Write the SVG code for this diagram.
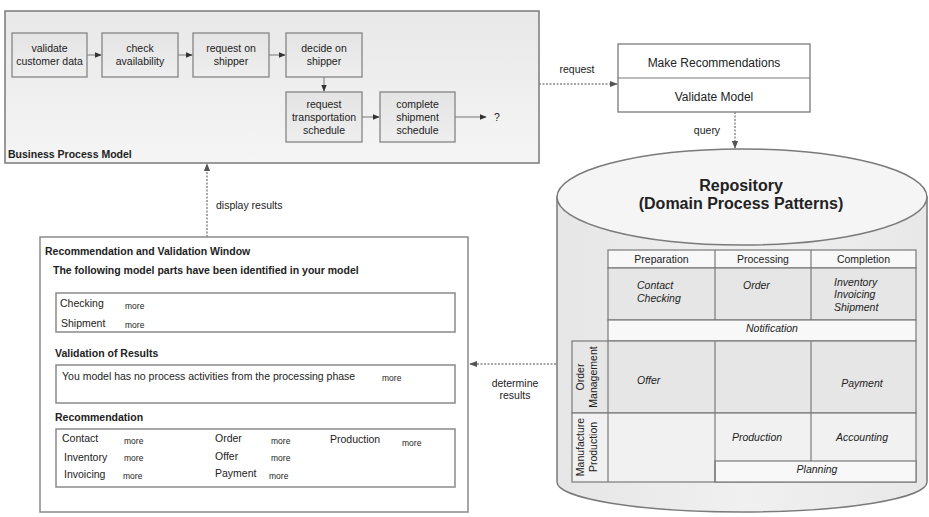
<svg xmlns="http://www.w3.org/2000/svg" width="929" height="517" viewBox="0 0 929 517">
<defs>
<linearGradient id="bpmGrad" x1="0" y1="0" x2="0" y2="1">
<stop offset="0" stop-color="#e8e8e8"/>
<stop offset="1" stop-color="#f5f5f5"/>
</linearGradient>
<linearGradient id="taskGrad" x1="0" y1="0" x2="0" y2="1">
<stop offset="0" stop-color="#e4e4e4"/>
<stop offset="1" stop-color="#eeeeee"/>
</linearGradient>
<linearGradient id="cylGrad" x1="0" y1="0" x2="1" y2="0">
<stop offset="0" stop-color="#e6e6e6"/>
<stop offset="0.5" stop-color="#f0f0f0"/>
<stop offset="1" stop-color="#e8e8e8"/>
</linearGradient>
<marker id="arr" viewBox="0 0 10 10" refX="9" refY="5" markerWidth="7" markerHeight="7" orient="auto" markerUnits="userSpaceOnUse">
<path d="M0,1 L10,5 L0,9 Z" fill="#333"/>
</marker>
<marker id="arrD" viewBox="0 0 10 10" refX="9" refY="5" markerWidth="8" markerHeight="8" orient="auto" markerUnits="userSpaceOnUse">
<path d="M0,1 L10,5 L0,9 Z" fill="#555"/>
</marker>
</defs>
<style>
text{font-family:"Liberation Sans",Arial,sans-serif;fill:#222;}
.t{font-size:10.5px;text-anchor:middle;}
.b{font-size:10.5px;font-weight:bold;}
.s{font-size:10.5px;}
.m{font-size:8.5px;}
.i{font-size:10.5px;font-style:italic;}
.ic{font-size:10.5px;font-style:italic;text-anchor:middle;}
.task{fill:url(#taskGrad);stroke:#858585;stroke-width:1.3;}
.flow{stroke:#8a8a8a;stroke-width:1.2;fill:none;marker-end:url(#arr);}
.dot{stroke:#8a8a8a;stroke-width:1.5;stroke-dasharray:2,1.5;fill:none;marker-end:url(#arrD);}
.pane{fill:#fff;stroke:#8a8a8a;stroke-width:1.5;}
.cell{stroke:#7a7a7a;stroke-width:1.2;}
</style>

<g id="business-process-model">
<rect x="5" y="11" width="534" height="152" fill="url(#bpmGrad)" stroke="#7a7a7a" stroke-width="1.5"/>
<text class="b" x="8" y="158">Business Process Model</text>
</g>
<g id="task-validate">
<rect class="task" x="12" y="33" width="75" height="44"/>
<text class="t" x="49.5" y="52">validate</text>
<text class="t" x="49.5" y="65">customer data</text>
</g>
<g id="task-check">
<rect class="task" x="102" y="33" width="76" height="44"/>
<text class="t" x="140" y="52">check</text>
<text class="t" x="140" y="65">availability</text>
</g>
<g id="task-request-shipper">
<rect class="task" x="193" y="33" width="76" height="44"/>
<text class="t" x="231" y="52">request on</text>
<text class="t" x="231" y="65">shipper</text>
</g>
<g id="task-decide-shipper">
<rect class="task" x="286" y="33" width="76" height="44"/>
<text class="t" x="324" y="52">decide on</text>
<text class="t" x="324" y="65">shipper</text>
</g>
<g id="task-request-transport">
<rect class="task" x="286" y="92" width="76" height="50"/>
<text class="t" x="324" y="108">request</text>
<text class="t" x="324" y="121">transportation</text>
<text class="t" x="324" y="134">schedule</text>
</g>
<g id="task-complete-shipment">
<rect class="task" x="380" y="92" width="75" height="50"/>
<text class="t" x="417.5" y="108">complete</text>
<text class="t" x="417.5" y="121">shipment</text>
<text class="t" x="417.5" y="134">schedule</text>
</g>
<g id="unknown-end">
<text class="s" x="494" y="121">?</text>
</g>

<g id="recommender">
<rect x="618" y="44" width="192" height="68" fill="#fff" stroke="#7a7a7a" stroke-width="1.3"/>
<line x1="618" y1="78" x2="810" y2="78" stroke="#7a7a7a" stroke-width="1.2"/>
<text class="t" x="714" y="67" style="font-size:12px">Make Recommendations</text>
<text class="t" x="714" y="101" style="font-size:12px">Validate Model</text>
</g>

<g id="repository">
<path d="M557,197 L557,482 A185,30 0 0 0 927,482 L927,197 Z" fill="url(#cylGrad)" stroke="#7a7a7a" stroke-width="1.5"/>
<ellipse cx="742" cy="197" rx="185" ry="48" fill="#f5f5f5" stroke="#7a7a7a" stroke-width="1.5"/>
<text x="741" y="191" text-anchor="middle" style="font-size:16px;font-weight:bold">Repository</text>
<text x="741" y="209" text-anchor="middle" style="font-size:16px;font-weight:bold">(Domain Process Patterns)</text>
</g>

<g id="pattern-table">
<rect class="cell" x="608" y="250" width="308" height="18" fill="#f8f8f8"/>
<rect class="cell" x="608" y="268" width="308" height="52" fill="#e6e6e6"/>
<rect class="cell" x="608" y="320" width="308" height="21" fill="#f8f8f8"/>
<rect class="cell" x="572" y="341" width="344" height="72" fill="#e6e6e6"/>
<rect class="cell" x="572" y="413" width="344" height="69" fill="#f1f1f1"/>
<rect class="cell" x="715" y="461" width="201" height="21" fill="#f8f8f8"/>
<line class="cell" x1="715" y1="250" x2="715" y2="320"/>
<line class="cell" x1="811" y1="250" x2="811" y2="320"/>
<line class="cell" x1="608" y1="341" x2="608" y2="482"/>
<line class="cell" x1="715" y1="341" x2="715" y2="482"/>
<line class="cell" x1="811" y1="341" x2="811" y2="461"/>
<text class="t" x="661.5" y="263">Preparation</text>
<text class="t" x="763" y="263">Processing</text>
<text class="t" x="863.5" y="263">Completion</text>
<text class="i" x="637" y="289">Contact</text>
<text class="i" x="637" y="302">Checking</text>
<text class="i" x="743" y="289">Order</text>
<text class="i" x="834" y="286">Inventory</text>
<text class="i" x="834" y="298">Invoicing</text>
<text class="i" x="834" y="311">Shipment</text>
<text class="ic" x="772" y="332">Notification</text>
<text class="i" x="637" y="384">Offer</text>
<text class="ic" x="862" y="387">Payment</text>
<text class="ic" x="757" y="441">Production</text>
<text class="ic" x="862" y="441">Accounting</text>
<text class="ic" x="817" y="473">Planning</text>
<text class="t" transform="translate(584,377) rotate(-90)">Order</text>
<text class="t" transform="translate(597,377) rotate(-90)">Management</text>
<text class="t" transform="translate(584,447) rotate(-90)">Manufacture</text>
<text class="t" transform="translate(597,447) rotate(-90)">Production</text>
</g>

<g id="recommendation-window">
<rect x="40" y="237" width="428" height="275" fill="#fff" stroke="#8a8a8a" stroke-width="1.5"/>
<text class="b" x="45" y="255">Recommendation and Validation Window</text>
<text class="b" x="53" y="274">The following model parts have been identified in your model</text>
<rect class="pane" x="56" y="293" width="399" height="39"/>
<text class="s" x="60" y="307">Checking</text>
<text class="m" x="125" y="309">more</text>
<text class="s" x="61" y="327">Shipment</text>
<text class="m" x="125" y="328">more</text>
<text class="b" x="55" y="357">Validation of Results</text>
<rect class="pane" x="56" y="365" width="399" height="38"/>
<text class="s" x="62" y="380">You model has no process activities from the processing phase</text>
<text class="m" x="382" y="381">more</text>
<text class="b" x="55" y="421">Recommendation</text>
<rect class="pane" x="56" y="429" width="399" height="58"/>
<text class="s" x="62" y="442">Contact</text>
<text class="m" x="124" y="444">more</text>
<text class="s" x="215" y="442">Order</text>
<text class="m" x="271" y="444">more</text>
<text class="s" x="330" y="443">Production</text>
<text class="m" x="402" y="446">more</text>
<text class="s" x="64" y="461">Inventory</text>
<text class="m" x="124" y="461">more</text>
<text class="s" x="215" y="460">Offer</text>
<text class="m" x="271" y="461">more</text>
<text class="s" x="64" y="478">Invoicing</text>
<text class="m" x="123" y="479">more</text>
<text class="s" x="215" y="477">Payment</text>
<text class="m" x="269" y="479">more</text>
</g>

<g id="connectors">
<line class="flow" x1="87" y1="55" x2="101" y2="55"/>
<line class="flow" x1="178" y1="55" x2="192" y2="55"/>
<line class="flow" x1="269" y1="55" x2="285" y2="55"/>
<line class="flow" x1="324" y1="77" x2="324" y2="91"/>
<line class="flow" x1="362" y1="117" x2="379" y2="117"/>
<line class="flow" x1="455" y1="117" x2="486" y2="117"/>
<line class="dot" x1="539" y1="84" x2="617" y2="84"/>
<text class="t" x="577" y="73">request</text>
<line class="dot" x1="735" y1="112" x2="735" y2="148"/>
<text class="t" x="707" y="134">query</text>
<line class="dot" x1="556" y1="364" x2="470" y2="364"/>
<text class="t" x="515" y="387">determine</text>
<text class="t" x="515" y="399">results</text>
<line class="dot" x1="207" y1="237" x2="207" y2="164"/>
<text class="s" x="216" y="209">display results</text>
</g>
</svg>
